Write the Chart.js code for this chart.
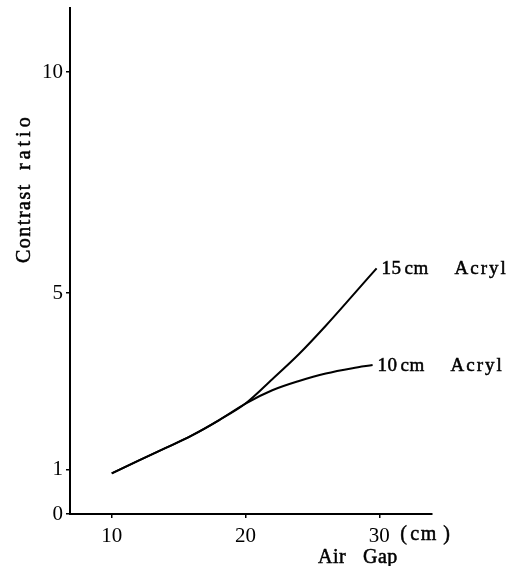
<!DOCTYPE html>
<html>
<head>
<meta charset="utf-8">
<script src="https://cdn.jsdelivr.net/npm/chart.js@4.4.1/dist/chart.umd.min.js"></script>
<style>
  html, body { margin: 0; padding: 0; background: #fff; }
  #wrap { width: 520px; height: 566px; }
</style>
</head>
<body>
<div id="wrap"><canvas id="c" width="520" height="566"></canvas></div>
<script>
// Air gap (cm) and contrast ratio; both phantoms share the curve up to 20 cm
const gapShared   = [10, 12, 14, 16, 18, 20];
const ratioShared = [0.92, 1.21, 1.49, 1.78, 2.12, 2.5];

const gap15   = [22, 24, 26, 28, 29.8];
const ratio15 = [3.05, 3.62, 4.26, 4.94, 5.56];

const gap10   = [22, 24, 26, 28, 29.5];
const ratio10 = [2.8, 3.01, 3.18, 3.3, 3.37];

const seriesThickness = ['15', '10'];
const seriesNames = ['15 cm  Acryl', '10 cm  Acryl'];
const xTicks = [10, 20, 30];
const yTicks = [0, 1, 5, 10];

const SERIF = "'Liberation Serif', 'DejaVu Serif', serif";

function points(xs, ys) { return xs.map((x, i) => ({ x: x, y: ys[i] })); }

const data15 = points(gapShared, ratioShared).concat(points(gap15, ratio15));
const data10 = points(gapShared, ratioShared).concat(points(gap10, ratio10));

// text with a hairline outline so it reads a little heavier than regular
function spaced(ctx, text, x, y, spacing) {
  ctx.letterSpacing = spacing + 'px';
  ctx.fillText(text, x, y);
  ctx.strokeText(text, x, y);
}

// Curve names at the end of each line, unit after the last x tick, axis titles
const annotate = {
  id: 'annotate',
  afterDraw(chart) {
    const ctx = chart.ctx;
    const xs = chart.scales.x, ys = chart.scales.y;
    ctx.save();
    ctx.fillStyle = '#000';
    ctx.strokeStyle = '#000';
    ctx.lineWidth = 0.5;
    ctx.textBaseline = 'alphabetic';
    ctx.textAlign = 'left';
    ctx.font = '19px ' + SERIF;
    chart.data.datasets.forEach((ds, i) => {
      const last = ds.data[ds.data.length - 1];
      const px = xs.getPixelForValue(last.x);
      const py = ys.getPixelForValue(last.y) + 6;
      spaced(ctx, seriesThickness[i], px + 5, py, 0.5);
      spaced(ctx, 'cm', px + 28, py, 0.5);
      spaced(ctx, 'Acryl', px + 78, py, 2);
    });
    // unit after the "30" tick
    const x30 = xs.getPixelForValue(30);
    ctx.font = '20px ' + SERIF;
    spaced(ctx, '(', x30 + 21, 540, 0);
    spaced(ctx, 'cm', x30 + 31, 540, 1.5);
    spaced(ctx, ')', x30 + 64, 540, 0);
    // x-axis title
    spaced(ctx, 'Air', 318, 563, 0.5);
    spaced(ctx, 'Gap', 363, 563, 0.5);
    // y-axis title
    ctx.translate(30, 0);
    ctx.rotate(-Math.PI / 2);
    spaced(ctx, 'Contrast', -263, 0, 1.5);
    spaced(ctx, 'ratio', -170, 0, 4);
    ctx.restore();
  }
};

// keep the plot area exactly where the layout padding puts it
function noEdgePadding(s) {
  s.paddingTop = 0; s.paddingBottom = 0;
  s.paddingLeft = 0; s.paddingRight = 0;
}

new Chart(document.getElementById('c'), {
  type: 'line',
  data: {
    datasets: [
      { label: seriesNames[0], data: data15 },
      { label: seriesNames[1], data: data10 }
    ]
  },
  options: {
    responsive: false,
    animation: false,
    layout: { padding: { top: 8, right: 88, left: 0, bottom: 0 } },
    elements: {
      line: { borderColor: '#000', borderWidth: 2, cubicInterpolationMode: 'monotone', fill: false },
      point: { radius: 0 }
    },
    plugins: { legend: { display: false }, tooltip: { enabled: false } },
    scales: {
      x: {
        type: 'linear',
        min: 6.88, max: 33.94,
        afterBuildTicks: s => { s.ticks = xTicks.map(v => ({ value: v })); },
        afterFit: s => { s.height = 52; noEdgePadding(s); },
        border: { display: true, color: '#000', width: 2 },
        grid: { drawOnChartArea: false, drawTicks: true, tickLength: 4, color: '#000', lineWidth: 1.5 },
        ticks: { color: '#000', font: { family: SERIF, size: 21 }, padding: 6, maxRotation: 0, autoSkip: false }
      },
      y: {
        type: 'linear',
        min: 0, max: 11.45,
        afterBuildTicks: s => { s.ticks = yTicks.map(v => ({ value: v })); },
        afterFit: s => { s.width = 70; noEdgePadding(s); },
        border: { display: true, color: '#000', width: 2 },
        grid: { drawOnChartArea: false, drawTicks: true, tickLength: 4, color: '#000', lineWidth: 1.5 },
        ticks: { color: '#000', font: { family: SERIF, size: 21 }, padding: 3, autoSkip: false }
      }
    }
  },
  plugins: [annotate]
});
</script>
</body>
</html>
